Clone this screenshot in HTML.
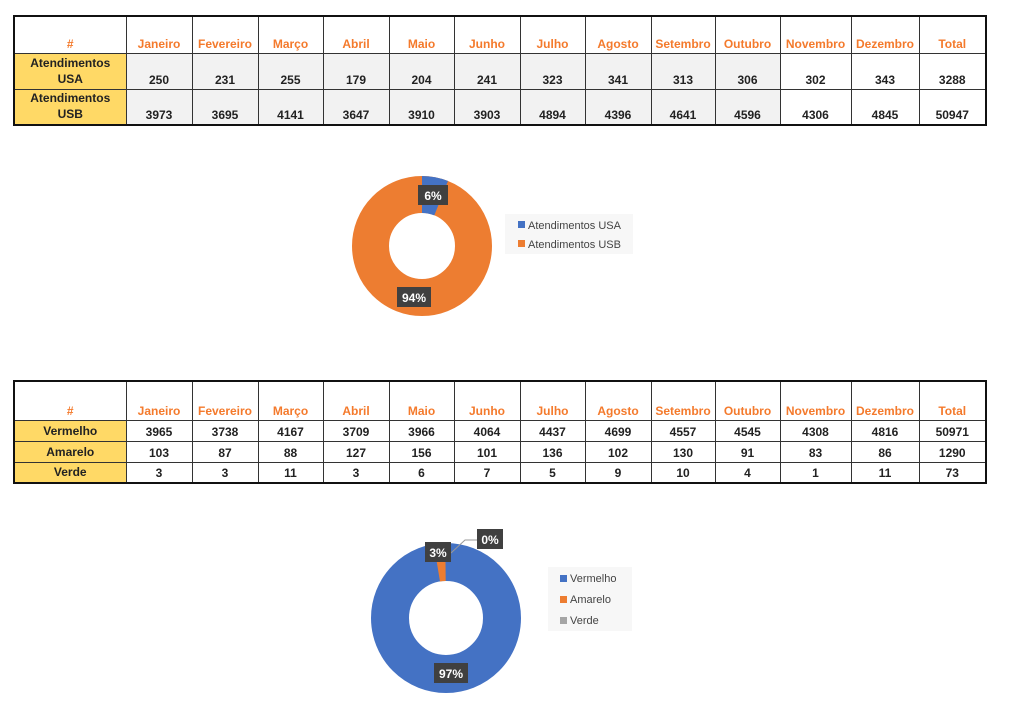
<!DOCTYPE html>
<html><head><meta charset="utf-8"><style>
body{margin:0;width:1024px;height:706px;background:#fff;position:relative;overflow:hidden;font-family:"Liberation Sans",Arial,sans-serif}
table{position:absolute;border-collapse:collapse;table-layout:fixed;font-weight:bold;font-size:12px;color:#222}
td{border:1px solid #333;text-align:center;vertical-align:bottom;padding:0 0 2px 0;white-space:nowrap;overflow:hidden}
tr.h td{color:#f47a2c;border-top:2px solid #111}
td.y{background:#ffd966;line-height:16px}
.g td.d{background:#f2f2f2}
td:first-child{border-left:2px solid #111}
td:last-child{border-right:2px solid #111}
tr:last-child td{border-bottom:2px solid #111}
.lab{font:bold 12px "Liberation Sans",sans-serif;fill:#fff}
.leg{font:11px "Liberation Sans",sans-serif;fill:#444}
</style></head><body>
<table style="left:13px;top:15px;width:972px">
<colgroup><col style="width:112px"><col style="width:66px"><col style="width:66px"><col style="width:65px"><col style="width:66px"><col style="width:65px"><col style="width:66px"><col style="width:65px"><col style="width:66px"><col style="width:64px"><col style="width:65px"><col style="width:71px"><col style="width:68px"><col style="width:67px"></colgroup>
<tr class="h" style="height:37px"><td>#</td><td>Janeiro</td><td>Fevereiro</td><td>Março</td><td>Abril</td><td>Maio</td><td>Junho</td><td>Julho</td><td>Agosto</td><td>Setembro</td><td>Outubro</td><td>Novembro</td><td>Dezembro</td><td>Total</td></tr>
<tr class="g" style="height:36px"><td class="y">Atendimentos<br>USA</td><td class="d">250</td><td class="d">231</td><td class="d">255</td><td class="d">179</td><td class="d">204</td><td class="d">241</td><td class="d">323</td><td class="d">341</td><td class="d">313</td><td class="d">306</td><td>302</td><td>343</td><td>3288</td></tr>
<tr class="g" style="height:33px"><td class="y">Atendimentos<br>USB</td><td class="d">3973</td><td class="d">3695</td><td class="d">4141</td><td class="d">3647</td><td class="d">3910</td><td class="d">3903</td><td class="d">4894</td><td class="d">4396</td><td class="d">4641</td><td class="d">4596</td><td>4306</td><td>4845</td><td>50947</td></tr>
</table>
<table style="left:13px;top:380px;width:972px">
<colgroup><col style="width:112px"><col style="width:66px"><col style="width:66px"><col style="width:65px"><col style="width:66px"><col style="width:65px"><col style="width:66px"><col style="width:65px"><col style="width:66px"><col style="width:64px"><col style="width:65px"><col style="width:71px"><col style="width:68px"><col style="width:67px"></colgroup>
<tr class="h" style="height:39px"><td>#</td><td>Janeiro</td><td>Fevereiro</td><td>Março</td><td>Abril</td><td>Maio</td><td>Junho</td><td>Julho</td><td>Agosto</td><td>Setembro</td><td>Outubro</td><td>Novembro</td><td>Dezembro</td><td>Total</td></tr>
<tr style="height:21px"><td class="y">Vermelho</td><td>3965</td><td>3738</td><td>4167</td><td>3709</td><td>3966</td><td>4064</td><td>4437</td><td>4699</td><td>4557</td><td>4545</td><td>4308</td><td>4816</td><td>50971</td></tr>
<tr style="height:21px"><td class="y">Amarelo</td><td>103</td><td>87</td><td>88</td><td>127</td><td>156</td><td>101</td><td>136</td><td>102</td><td>130</td><td>91</td><td>83</td><td>86</td><td>1290</td></tr>
<tr style="height:21px"><td class="y">Verde</td><td>3</td><td>3</td><td>11</td><td>3</td><td>6</td><td>7</td><td>5</td><td>9</td><td>10</td><td>4</td><td>1</td><td>11</td><td>73</td></tr>
</table>
<svg width="1024" height="706" style="position:absolute;left:0;top:0">
<circle cx="422" cy="246" r="51.5" fill="none" stroke="#ed7d31" stroke-width="37"/>
<path d="M422 176 A70 70 0 0 1 448 181 L434.3 215.4 A33 33 0 0 0 422 213 Z" fill="#4472c4"/>
<rect x="418" y="185" width="30" height="20" fill="#404040"/><text class="lab" x="433" y="200" text-anchor="middle">6%</text>
<rect x="397" y="287" width="34" height="20" fill="#404040"/><text class="lab" x="414" y="302" text-anchor="middle">94%</text>
<rect x="505" y="214" width="128" height="40" fill="#f7f7f7"/>
<rect x="518" y="221" width="7" height="7" fill="#4472c4"/><text class="leg" x="528" y="229">Atendimentos USA</text>
<rect x="518" y="240" width="7" height="7" fill="#ed7d31"/><text class="leg" x="528" y="248">Atendimentos USB</text>

<circle cx="446" cy="618" r="56" fill="none" stroke="#4472c4" stroke-width="38"/>
<path d="M433.8 544 A75 75 0 0 1 445.3 543 L445.7 581 A37 37 0 0 0 440 581.5 Z" fill="#ed7d31"/>
<polyline points="451,553 465,540 477,540" fill="none" stroke="#999" stroke-width="1"/>
<rect x="425" y="542" width="26" height="20" fill="#404040"/><text class="lab" x="438" y="557" text-anchor="middle">3%</text>
<rect x="477" y="529" width="26" height="20" fill="#404040"/><text class="lab" x="490" y="544" text-anchor="middle">0%</text>
<rect x="434" y="663" width="34" height="20" fill="#404040"/><text class="lab" x="451" y="678" text-anchor="middle">97%</text>
<rect x="548" y="567" width="84" height="64" fill="#f7f7f7"/>
<rect x="560" y="575" width="7" height="7" fill="#4472c4"/><text class="leg" x="570" y="582">Vermelho</text>
<rect x="560" y="596" width="7" height="7" fill="#ed7d31"/><text class="leg" x="570" y="603">Amarelo</text>
<rect x="560" y="617" width="7" height="7" fill="#a5a5a5"/><text class="leg" x="570" y="624">Verde</text>
</svg>
</body></html>
